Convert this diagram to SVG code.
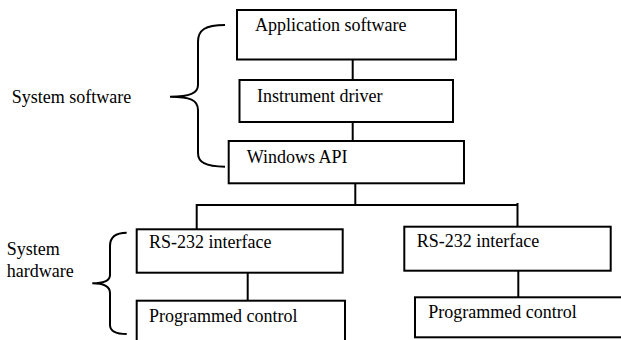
<svg xmlns="http://www.w3.org/2000/svg" width="621" height="340" viewBox="0 0 621 340" font-family="'Liberation Serif', 'Times New Roman', Times, 'DejaVu Serif', serif" font-size="18">
<style>
.box{fill:#fff;stroke:#000;stroke-width:2}
.ln{fill:none;stroke:#000;stroke-width:2}
.br{fill:none;stroke:#000;stroke-width:2}
text{font-family:'Liberation Serif','Times New Roman',Times,'DejaVu Serif',serif;font-size:18px;fill:#000}
</style>
<rect width="621" height="340" fill="#fff"/>
<g id="connectors">
<line class="ln" x1="352.7" y1="59.5" x2="352.7" y2="80"/>
<line class="ln" x1="352.7" y1="122" x2="352.7" y2="141"/>
<line class="ln" x1="355.3" y1="183.3" x2="355.3" y2="205"/>
<line class="ln" x1="196.7" y1="205" x2="518" y2="205"/>
<line class="ln" x1="196.7" y1="204" x2="196.7" y2="230"/>
<line class="ln" x1="517.5" y1="203" x2="517.5" y2="227"/>
<line class="ln" x1="247.7" y1="272.7" x2="247.7" y2="300.7"/>
<line class="ln" x1="518.3" y1="270.7" x2="518.3" y2="297.3"/>
</g>
<g id="brace-software">
<path class="br" d="M225,25 C205,25 198,30 198,42 L198,85 C198,93 190,96.7 170,96.7 C190,96.7 198,100 198,110 L198,153 C198,162 205,166.7 225,166.7"/>
<text x="11.7" y="103">System software</text>
</g>
<g id="brace-hardware">
<path class="br" d="M126.7,232.7 C115,232.7 110,237 110,246 L110,275 C110,280 104,283.3 92.3,283.3 C104,283.3 110,287 110,293 L110,325 C110,330 115,334 126.7,334"/>
<text x="6.7" y="255">System</text>
<text x="6.7" y="276.7">hardware</text>
</g>
<g id="app">
<rect class="box" x="237" y="10" width="219" height="49.5"/>
<text x="255" y="31">Application software</text>
</g>
<g id="driver">
<rect class="box" x="239.5" y="80" width="213.5" height="42"/>
<text x="257" y="101.5">Instrument driver</text>
</g>
<g id="api">
<rect class="box" x="228.7" y="141" width="235.3" height="42.3"/>
<text x="246.7" y="162.7">Windows API</text>
</g>
<g id="rs232-left">
<rect class="box" x="136.7" y="229.3" width="206" height="43.4"/>
<text x="149" y="248">RS-232 interface</text>
</g>
<g id="prog-left">
<rect class="box" x="136.7" y="300.7" width="208.3" height="45"/>
<text x="149" y="321.7">Programmed control</text>
</g>
<g id="rs232-right">
<rect class="box" x="404.3" y="226.7" width="206.4" height="44"/>
<text x="416.7" y="246.7">RS-232 interface</text>
</g>
<g id="prog-right">
<rect class="box" x="415" y="297.3" width="210" height="40"/>
<text x="428.3" y="318.3">Programmed control</text>
</g>
</svg>
